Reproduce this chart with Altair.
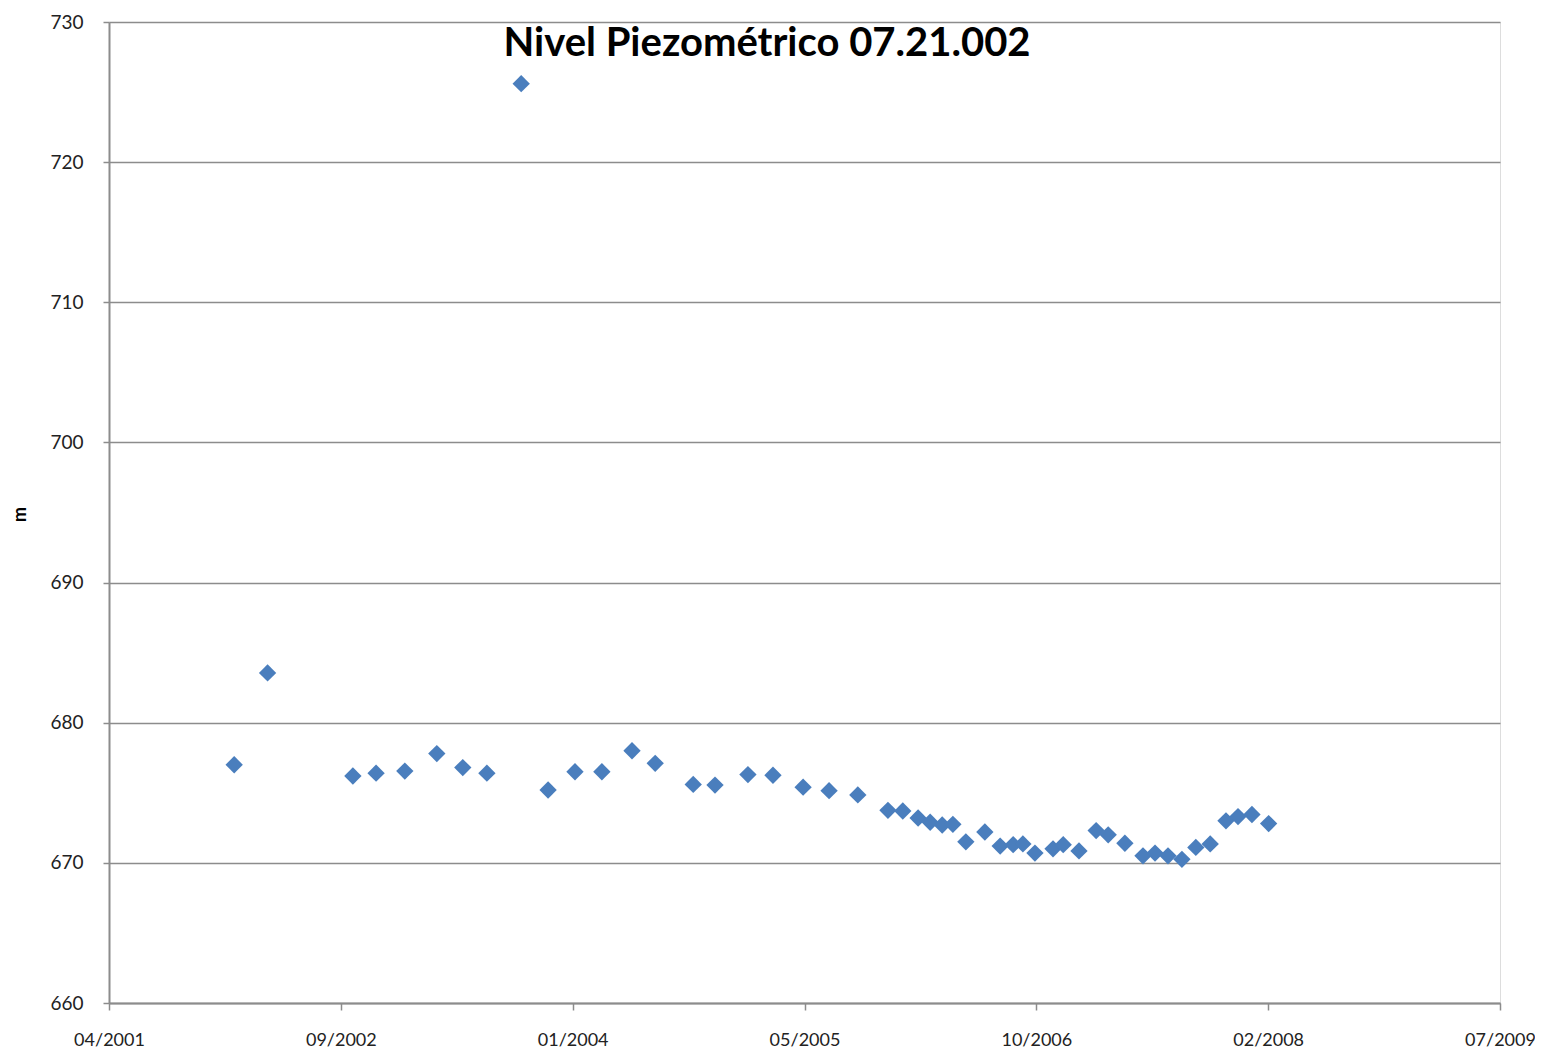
import altair as alt
import pandas as pd

fechas = [
    "2002-01-14", "2002-03-27", "2003-09-25", "2002-09-27", "2002-11-16",
    "2003-01-17", "2003-03-27", "2003-05-22", "2003-07-13", "2003-11-22",
    "2004-01-19", "2004-03-17", "2004-05-21", "2004-07-10", "2004-09-30",
    "2004-11-16", "2005-01-26", "2005-03-21", "2005-05-25", "2005-07-20",
    "2005-09-20", "2005-11-24", "2005-12-26", "2006-01-28", "2006-02-23",
    "2006-03-21", "2006-04-13", "2006-05-11", "2006-06-21", "2006-07-24",
    "2006-08-21", "2006-09-11", "2006-10-07", "2006-11-15", "2006-12-07",
    "2007-01-10", "2007-02-16", "2007-03-14", "2007-04-19", "2007-05-28",
    "2007-06-23", "2007-07-21", "2007-08-20", "2007-09-19", "2007-10-20",
    "2007-11-23", "2007-12-19", "2008-01-18", "2008-02-23",
]
nivel = [
    677.0, 683.55, 725.6, 676.2, 676.4,
    676.55, 677.8, 676.8, 676.4, 675.2,
    676.5, 676.5, 678.0, 677.1, 675.6,
    675.55, 676.3, 676.25, 675.4, 675.15,
    674.85, 673.75, 673.7, 673.2, 672.9,
    672.7, 672.75, 671.5, 672.2, 671.2,
    671.3, 671.35, 670.7, 671.0, 671.3,
    670.85, 672.3, 672.0, 671.4, 670.5,
    670.7, 670.5, 670.25, 671.1, 671.35,
    673.0, 673.3, 673.45, 672.8,
]

# axis ticks (Excel date serials 37000..40000 every 500 days)
tick_dates = [
    (2001, 4, 19), (2002, 9, 1), (2004, 1, 14), (2005, 5, 28),
    (2006, 10, 10), (2008, 2, 22), (2009, 7, 6),
]
y_ticks = [660, 670, 680, 690, 700, 710, 720, 730]
titulo = ["Nivel Piezométrico 07.21.002"]

df = pd.DataFrame({"fecha": [f + "T00:00:00" for f in fechas], "nivel": nivel})

FONT = "Lato"
GRID = "#8c8c8c"

def dt(t):
    return alt.DateTime(year=t[0], month=t[1], date=t[2])

points = (
    alt.Chart(df)
    .mark_point(shape="diamond", filled=True, size=300, color="#4A7EBD", opacity=1)
    .encode(
        x=alt.X(
            "fecha:T",
            scale=alt.Scale(domain=[dt(tick_dates[0]), dt(tick_dates[-1])]),
            axis=alt.Axis(
                values=[dt(t) for t in tick_dates],
                format="%m/%Y",
                title=None,
                grid=False,
                domainColor=GRID,
                domainWidth=2,
                tickColor=GRID,
                tickWidth=1.5,
                tickSize=7,
                labelPadding=21,
                labelFont=FONT,
                labelFontSize=18,
                labelColor="#222222",
                labelOverlap=False,
                labelFlush=False,
            ),
        ),
        y=alt.Y(
            "nivel:Q",
            scale=alt.Scale(domain=[660, 730], nice=False, zero=False),
            axis=alt.Axis(
                values=y_ticks,
                title="m",
                titleFont=FONT,
                titleFontSize=18,
                titleFontWeight="bold",
                titleColor="#000000",
                titleAngle=-90,
                titleX=-89,
                titleY=492,
                titleAlign="center",
                titleBaseline="middle",
                grid=True,
                gridColor=GRID,
                gridWidth=1.5,
                domainColor=GRID,
                domainWidth=2,
                tickColor=GRID,
                tickWidth=1.5,
                tickSize=6,
                labelPadding=20,
                labelFont=FONT,
                labelFontSize=19,
                labelColor="#222222",
            ),
        ),
    )
)

title_layer = (
    alt.Chart(pd.DataFrame({"t": titulo}))
    .mark_text(
        font=FONT,
        fontSize=40,
        fontWeight="bold",
        color="#000000",
        align="center",
        baseline="alphabetic",
    )
    .encode(text="t:N", x=alt.value(658), y=alt.value(34))
)

chart = (
    alt.layer(points, title_layer)
    .properties(
        width=1391,
        height=981,
        autosize=alt.AutoSizeParams(type="none"),
        padding={"left": 101, "top": 14, "right": 35, "bottom": 47},
    )
    .configure_view(stroke=None)
    .configure(background="white")
)

chart.save("out.html", embed_options={"renderer": "svg", "actions": False})
